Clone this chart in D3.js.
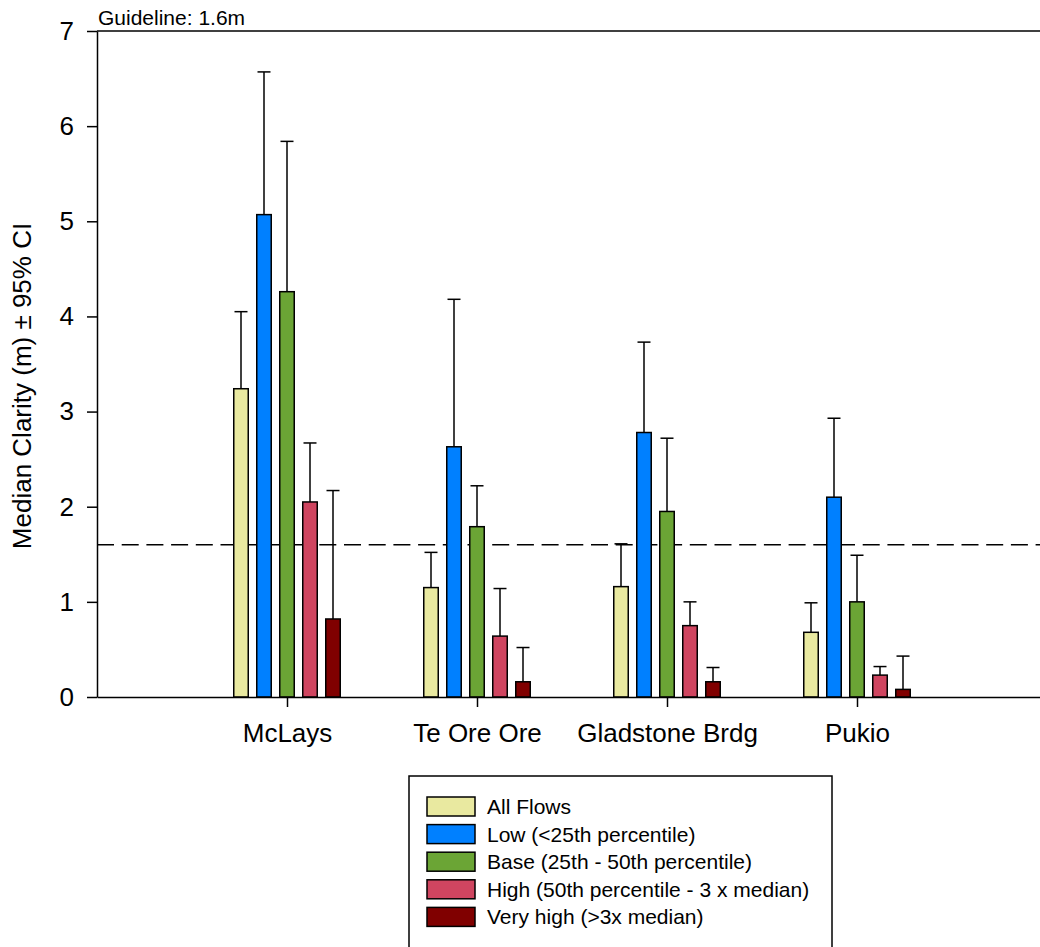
<!DOCTYPE html>
<html>
  <head>
    <meta charset="UTF-8">
    <title>Median clarity by flow</title>
    <style>
    body {
      margin: 0;
      background: #fff;
    }
    svg {
      display: block;
      font-family: Arial, "Liberation Sans", sans-serif;
    }
    .axis path, .axis line {
      stroke: #000;
      stroke-width: 1.5px;
    }
    .axis text {
      fill: #000;
    }
    .bar {
      stroke: #000;
      stroke-width: 1.5px;
    }
    .err {
      stroke: #000;
      stroke-width: 1.5px;
      fill: none;
    }
    </style>
  </head>
  <body>
    <svg width="1040" height="947"></svg>
    <script src="https://d3js.org/d3.v7.min.js"></script>
    <script>
// sites along the x axis
var sites = ["McLays", "Te Ore Ore", "Gladstone Brdg", "Pukio"];

// flow classes (legend order)
var flows = ["All Flows", "Low (<25th percentile)", "Base (25th - 50th percentile)",
             "High (50th percentile - 3 x median)", "Very high (>3x median)"];
var flowColors = ["#e9e9a0", "#0080ff", "#6ba535", "#cf4560", "#800000"];

// median clarity (m), one value per site
var allFlows = [3.24, 1.15, 1.16, 0.68];
var low      = [5.07, 2.63, 2.78, 2.10];
var base     = [4.26, 1.79, 1.95, 1.00];
var high     = [2.05, 0.64, 0.75, 0.23];
var veryHigh = [0.82, 0.16, 0.16, 0.08];

// upper 95% CI (m)
var allFlowsCI = [4.05, 1.52, 1.61, 0.99];
var lowCI      = [6.57, 4.18, 3.73, 2.93];
var baseCI     = [5.84, 2.22, 2.72, 1.49];
var highCI     = [2.67, 1.14, 1.00, 0.32];
var veryHighCI = [2.17, 0.52, 0.31, 0.43];

var yTicks = [0, 1, 2, 3, 4, 5, 6, 7];
var guideline = 1.6;

var medians = [allFlows, low, base, high, veryHigh],
    uppers = [allFlowsCI, lowCI, baseCI, highCI, veryHighCI];

var svg = d3.select("svg");

var x = d3.scaleLinear().domain([0, 5]).range([97, 1047]),
    y = d3.scaleLinear().domain([0, 7]).range([697, 31]),
    offset = d3.scaleBand().domain(flows).range([-57.5, 57.5])
      .paddingInner(0.37).paddingOuter(0.185);

// flatten into one row per bar
var rows = [];
flows.forEach((f, i) => {
  sites.forEach((s, j) => {
    rows.push({flow: f, color: flowColors[i], site: j + 1, v: medians[i][j], hi: uppers[i][j]});
  });
});

// top frame line
svg.append("line")
    .attr("x1", x(0)).attr("x2", x(5))
    .attr("y1", y(7)).attr("y2", y(7))
    .attr("stroke", "#000").attr("stroke-width", 1.5);

// guideline
svg.append("line")
    .attr("x1", x(0)).attr("x2", x(5))
    .attr("y1", y(guideline)).attr("y2", y(guideline))
    .attr("stroke", "#000").attr("stroke-width", 1.5)
    .attr("stroke-dasharray", "17,7.7");

svg.append("text")
    .attr("x", 98).attr("y", 25)
    .style("font-size", "21px")
    .text("Guideline: " + guideline + "m");

// error bars
var err = svg.append("g").selectAll("g").data(rows).join("g").attr("class", "err");
err.append("line")
    .attr("x1", d => x(d.site) + offset(d.flow) + offset.bandwidth() / 2)
    .attr("x2", d => x(d.site) + offset(d.flow) + offset.bandwidth() / 2)
    .attr("y1", d => y(d.v)).attr("y2", d => y(d.hi));
err.append("line")
    .attr("x1", d => x(d.site) + offset(d.flow) + offset.bandwidth() / 2 - 6.5)
    .attr("x2", d => x(d.site) + offset(d.flow) + offset.bandwidth() / 2 + 6.5)
    .attr("y1", d => y(d.hi)).attr("y2", d => y(d.hi));

// bars
svg.append("g").selectAll("rect").data(rows).join("rect")
    .attr("class", "bar")
    .attr("x", d => x(d.site) + offset(d.flow))
    .attr("width", offset.bandwidth())
    .attr("y", d => y(d.v))
    .attr("height", d => y(0) - y(d.v))
    .attr("fill", d => d.color);

// axes
var yAxis = svg.append("g")
    .attr("class", "axis")
    .attr("transform", "translate(" + x(0) + ",0)")
    .call(d3.axisLeft(y).tickValues(yTicks).tickFormat(d3.format("d"))
      .tickSize(10).tickSizeOuter(0).tickPadding(13));
yAxis.selectAll("text").style("font-size", "26px");

var xAxis = svg.append("g")
    .attr("class", "axis")
    .attr("transform", "translate(0," + y(0) + ")")
    .call(d3.axisBottom(x).tickValues([1, 2, 3, 4]).tickFormat(d => sites[d - 1])
      .tickSize(10).tickSizeOuter(0).tickPadding(17));
xAxis.selectAll("text").style("font-size", "26px");

// y title
svg.append("text")
    .attr("transform", "translate(31," + 386 + ") rotate(-90)")
    .attr("text-anchor", "middle")
    .style("font-size", "26px")
    .text("Median Clarity (m) \u00b1 95% CI");

// legend
var legend = svg.append("g").attr("transform", "translate(409,776)");
legend.append("rect")
    .attr("width", 423).attr("height", 200)
    .attr("fill", "#fff").attr("stroke", "#000").attr("stroke-width", 1.5);
var item = legend.selectAll("g.item").data(flows).join("g")
    .attr("class", "item")
    .attr("transform", (d, i) => "translate(18," + (21 + i * 27.6) + ")");
item.append("rect")
    .attr("width", 48).attr("height", 19)
    .attr("fill", (d, i) => flowColors[i])
    .attr("stroke", "#000").attr("stroke-width", 1.5);
item.append("text")
    .attr("x", 60).attr("y", 17)
    .style("font-size", "21px")
    .text(d => d);
    </script>
  </body>
</html>
